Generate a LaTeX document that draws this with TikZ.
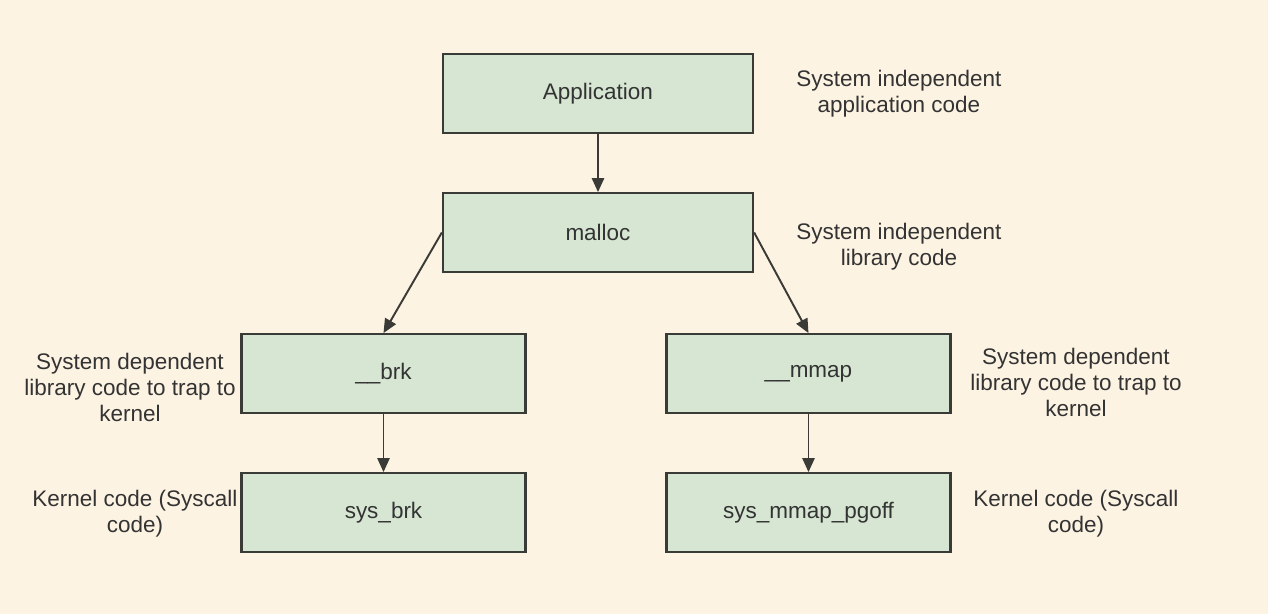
\documentclass[tikz,border=0pt]{standalone}
\usepackage{fontspec}
\setmainfont{Liberation Sans}
\usetikzlibrary{arrows.meta,positioning}
\definecolor{slidebg}{HTML}{FDF3E3}
\definecolor{boxgreen}{HTML}{D7E6D3}
\definecolor{boxline}{HTML}{3A3A36}
\definecolor{notetext}{HTML}{333333}

\tikzset{
  layer/.style={draw=boxline, line width=1.3pt, fill=boxgreen, rectangle,
    minimum height=1.57cm, text=notetext},
  note/.style={align=center, text=notetext},
  call/.style={-{Triangle[length=8pt,width=7pt]}, draw=boxline, line width=1.1pt}
}

\begin{document}
\begin{tikzpicture}[every node/.style={font=\fontsize{12.8}{14.8}\selectfont}]
  \fill[slidebg] (0,0) rectangle (25.36,12.28);
  \useasboundingbox (0,0) rectangle (25.36,12.28);

  % Layers
  \node[layer, minimum width=6.2cm] (app) at (11.96,10.41) {Application};
  \node[layer, minimum width=6.2cm] (malloc) at (11.96,7.63) {malloc};
  \node[layer, minimum width=5.68cm] (brk) at (7.67,4.81) {\_\_brk};
  \node[layer, minimum width=5.68cm] (mmap) at (16.17,4.81) {\_\_mmap};
  \node[layer, minimum width=5.68cm] (sysbrk) at (7.67,2.03) {sys\_brk};
  \node[layer, minimum width=5.68cm] (sysmmap) at (16.17,2.03) {sys\_mmap\_pgoff};

  % Notes
  \node[note] (appnote) at (17.98,10.40) {System independent\\application code};
  \node[note] (mallocnote) at (17.98,7.34) {System independent\\library code};
  \node[note] (brknote) at (2.6,4.54) {System dependent\\library code to trap to\\kernel};
  \node[note] (mmapnote) at (21.52,4.64) {System dependent\\library code to trap to\\kernel};
  \node[note] (sysbrknote) at (2.7,2.0) {Kernel code (Syscall\\code)};
  \node[note] (sysmmapnote) at (21.52,2.0) {Kernel code (Syscall\\code)};

  % Arrows
  \draw[call] (app) -- (malloc);
  \draw[call] (malloc.west) -- (brk.north);
  \draw[call] (malloc.east) -- (mmap.north);
  \draw[call] (brk) -- (sysbrk);
  \draw[call] (mmap) -- (sysmmap);
\end{tikzpicture}
\end{document}
